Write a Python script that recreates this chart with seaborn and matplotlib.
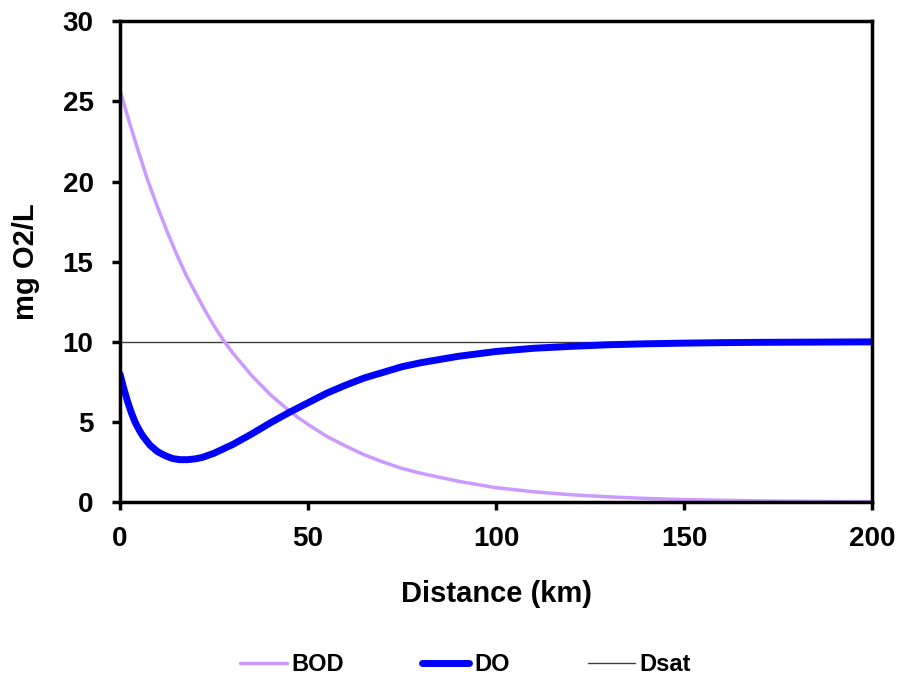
import pandas as pd
import matplotlib
matplotlib.use("Agg")
import matplotlib.pyplot as plt
import seaborn as sns

# Data
bod_km = [0, 2.5, 5, 7.5, 10, 12.5, 15, 17.5, 20, 22.5, 25, 27.5, 30, 32.5, 35,
          37.5, 40, 42.5, 45, 47.5, 50, 55, 60, 65, 70, 75, 80, 90, 100, 110,
          120, 130, 140, 150, 160, 170, 180, 190, 200]
bod = [25.7, 23.7, 21.8, 20.0, 18.4, 16.9, 15.5, 14.2, 13.1, 12.0, 11.0, 10.1,
       9.3, 8.6, 7.9, 7.3, 6.7, 6.2, 5.7, 5.25, 4.85, 4.1, 3.5, 2.95, 2.5, 2.1,
       1.8, 1.3, 0.9, 0.65, 0.46, 0.33, 0.23, 0.16, 0.12, 0.08, 0.06, 0.04,
       0.03]

do_km = [0, 1, 2, 3, 4, 5, 6, 8, 10, 12, 14, 16, 18, 20, 22, 25, 30, 35, 40,
         45, 50, 55, 60, 65, 70, 75, 80, 90, 100, 110, 120, 130, 140, 150, 160,
         170, 180, 190, 200]
do = [8.0, 7.1, 6.3, 5.6, 5.0, 4.55, 4.15, 3.55, 3.15, 2.9, 2.72, 2.65, 2.65,
      2.7, 2.8, 3.05, 3.6, 4.25, 4.95, 5.6, 6.2, 6.8, 7.3, 7.75, 8.1, 8.45,
      8.7, 9.1, 9.4, 9.6, 9.72, 9.82, 9.88, 9.92, 9.95, 9.97, 9.98, 9.99, 10.0]

dsat_km = [0, 200]
dsat = [10, 10]

sns.set_style("white")
plt.rcParams['font.family'] = ['Liberation Sans', 'DejaVu Sans']
plt.rcParams['text.color'] = 'black'
plt.rcParams['axes.labelcolor'] = 'black'
plt.rcParams['xtick.color'] = 'black'
plt.rcParams['ytick.color'] = 'black'

fig = plt.figure(figsize=(9.02, 6.86), dpi=100)
ax = fig.add_axes([0.133, 0.268, 0.834, 0.701])

sns.lineplot(x=dsat_km, y=dsat, ax=ax, color="#404040", linewidth=1.0, label="Dsat")
sns.lineplot(x=bod_km, y=bod, ax=ax, color="#CC99FF", linewidth=2.5, label="BOD")
sns.lineplot(x=do_km, y=do, ax=ax, color="#0000FF", linewidth=5.0, label="DO")

ax.set_xlim(0, 200)
ax.set_ylim(0, 30)
ax.set_xticks([0, 50, 100, 150, 200])
ax.set_yticks([0, 5, 10, 15, 20, 25, 30])
for sp in ax.spines.values():
    sp.set_visible(True)
    sp.set_color("black")
    sp.set_linewidth(2.5)
ax.tick_params(axis="both", direction="out", length=6, width=2.5,
               labelsize=20, left=True, bottom=True)
ax.tick_params(axis="x", pad=11)
ax.tick_params(axis="y", pad=13)
for lab in ax.get_xticklabels() + ax.get_yticklabels():
    lab.set_fontweight("bold")

ax.set_xlabel("Distance (km)", fontsize=21, fontweight="bold", labelpad=20)
ax.set_ylabel("mg O2/L", fontsize=21, fontweight="bold", labelpad=16)

handles, labels = ax.get_legend_handles_labels()
order = [labels.index(n) for n in ["BOD", "DO", "Dsat"]]
ax.get_legend().remove()
fig.legend([handles[i] for i in order], [labels[i] for i in order],
           loc="center", bbox_to_anchor=(0.516, 0.031), ncol=3, frameon=False,
           prop={"size": 17, "weight": "bold"}, handlelength=2.0,
           handletextpad=0.2, columnspacing=3.3)

fig.savefig("out.png", dpi=100)
